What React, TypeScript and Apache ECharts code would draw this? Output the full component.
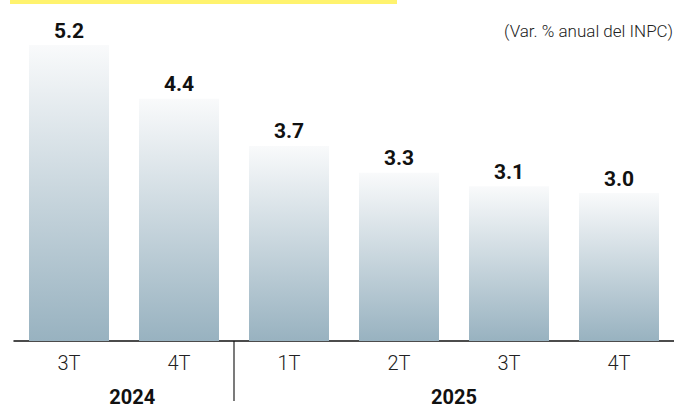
import React, { useEffect, useRef } from "react";
import * as echarts from "echarts";

const categories = ["3T", "4T", "1T", "2T", "3T", "4T"];
const values = [5.2, 4.4, 3.7, 3.3, 3.1, 3.0];
const years = [
  { label: "2024", from: 0, to: 1 },
  { label: "2025", from: 2, to: 5 },
];
const subtitle = "(Var. % anual del INPC)";

export default function App() {
  const ref = useRef<HTMLDivElement>(null);
  useEffect(() => {
    if (!ref.current) return;
    const chart = echarts.init(ref.current, null, { renderer: "svg" });
    chart.setOption({
      animation: false,
      grid: { left: 14, right: -6, top: 45, bottom: 73 },
      xAxis: {
        type: "category",
        data: categories,
        axisLine: { lineStyle: { color: "#111", width: 1.5 } },
        axisTick: { show: false },
        axisLabel: {
          margin: 12,
          fontSize: 20,
          fontWeight: 300,
          color: "#222",
          fontFamily: "Roboto, sans-serif",
        },
      },
      yAxis: { type: "value", min: 0.8, max: 5.2, show: false, splitLine: { show: false } },
      series: [
        {
          type: "bar",
          data: values,
          barWidth: 80,
          itemStyle: {
            color: new echarts.graphic.LinearGradient(0, 0, 0, 1, [
              { offset: 0, color: "#f9fafb" },
              { offset: 1, color: "#98b2c0" },
            ]),
          },
          label: {
            show: true,
            position: "top",
            distance: 4,
            fontSize: 21,
            fontWeight: "bold",
            color: "#111",
            fontFamily: "Roboto, sans-serif",
            formatter: (p: any) => p.value.toFixed(1),
          },
        },
      ],
    });
    const base = chart.convertToPixel({ xAxisIndex: 0 }, 0) as number;
    const next = chart.convertToPixel({ xAxisIndex: 0 }, 1) as number;
    const step = next - base;
    const axisY = 341;
    const sepX = base + step * 1.5;
    const graphics: any[] = [
      { type: "rect", shape: { x: 10, y: 0, width: 387, height: 4 }, style: { fill: "#fff36e" } },
      {
        type: "text",
        x: 673,
        y: 31,
        style: {
          text: subtitle,
          align: "right",
          verticalAlign: "middle",
          fontSize: 17,
          fontWeight: 300,
          fill: "#222",
          fontFamily: "Roboto, sans-serif",
        },
      },
      {
        type: "line",
        shape: { x1: sepX, y1: axisY, x2: sepX, y2: 401 },
        style: { stroke: "#222", lineWidth: 1.2 },
      },
    ];
    years.forEach((y) => {
      const cx =
        y.from === 0
          ? (base - step * 0.35 + sepX) / 2
          : (chart.convertToPixel({ xAxisIndex: 0 }, y.from) as number) / 2 +
            (chart.convertToPixel({ xAxisIndex: 0 }, y.to) as number) / 2;
      graphics.push({
        type: "text",
        x: cx,
        y: 397,
        style: {
          text: y.label,
          align: "center",
          verticalAlign: "middle",
          fontSize: 20,
          fontWeight: "bold",
          fill: "#111",
          fontFamily: "Roboto, sans-serif",
        },
      });
    });
    chart.setOption({ graphic: graphics });
    return () => chart.dispose();
  }, []);
  return <div ref={ref} style={{ width: 674, height: 414, position: "absolute", left: 0, top: 0 }} />;
}
